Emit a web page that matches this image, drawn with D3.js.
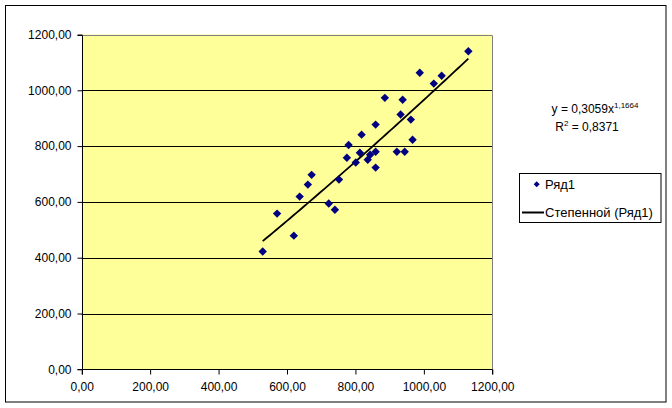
<!DOCTYPE html>
<html>
<head>
<meta charset="utf-8">
<script src="https://cdn.jsdelivr.net/npm/d3@7"></script>
<style>
  html, body { margin: 0; padding: 0; background: #fff; }
  svg text { font-family: Arial, "Liberation Sans", sans-serif; }
</style>
</head>
<body>
<svg id="chart" width="672" height="408"></svg>
<script>
// ---- data ----
const xValues = [1130, 988, 1052, 1029, 886, 938, 932, 962, 859, 818,
                 967, 780, 813, 859, 921, 944, 843, 775, 836, 801,
                 859, 672, 752, 661, 637, 722, 740, 571, 620, 529];
const yValues = [1140, 1063, 1052, 1024, 973, 966, 913, 895, 877, 841,
                 823, 804, 776, 780, 780, 780, 769, 758, 751, 741,
                 723, 697, 680, 662, 619, 594, 572, 558, 479, 422];
const xTicks = [0, 200, 400, 600, 800, 1000, 1200];
const yTicks = [0, 200, 400, 600, 800, 1000, 1200];
const trendCoef = [0.3059, 1.1664];   // y = a * x^b
const seriesName = "Ряд1";
const trendName = "Степенной (Ряд1)";
const eqMain = "y = 0,3059x";
const eqExp = "1,1664";
const r2Text = " = 0,8371";

(function () {
const fmt = v => d3.format(".2f")(v).replace(".", ",");

const svg = d3.select("#chart");
const pL = 81.7, pT = 34.5, pR = 492.3, pB = 369.3;

// outer chart border
svg.append("rect").attr("x", 5.5).attr("y", 5.5).attr("width", 660.5).attr("height", 396.5)
  .attr("fill", "#fff").attr("stroke", "#000").attr("stroke-width", 1);

const x = d3.scaleLinear().domain([0, 1200]).range([pL, pR]);
const y = d3.scaleLinear().domain([0, 1200]).range([pB, pT]);

// plot area
svg.append("rect").attr("x", pL).attr("y", pT).attr("width", pR - pL).attr("height", pB - pT)
  .attr("fill", "#FFFF99");

// gridlines
svg.append("g").selectAll("line").data(yTicks.filter(t => t > 0 && t < 1200)).join("line")
  .attr("x1", pL).attr("x2", pR)
  .attr("y1", d => Math.round(y(d)) + 0.5).attr("y2", d => Math.round(y(d)) + 0.5)
  .attr("stroke", "#000").attr("stroke-width", 1);

// plot border (top/right gray)
svg.append("path")
  .attr("d", `M${pL},${Math.round(pT)+0.5}H${Math.round(pR)+0.5}V${pB}`)
  .attr("fill", "none").attr("stroke", "#808080").attr("stroke-width", 1);

// axes
const yAxis = d3.axisLeft(y).tickValues(yTicks).tickFormat(fmt).tickSize(5).tickPadding(6);
const gy = svg.append("g").attr("transform", `translate(${Math.round(pL)+0.5},0)`).call(yAxis);
const xAxis = d3.axisBottom(x).tickValues(xTicks).tickFormat(fmt).tickSize(5).tickPadding(8);
const gx = svg.append("g").attr("transform", `translate(0,${Math.round(pB)+0.5})`).call(xAxis);
[gy, gx].forEach(g => {
  g.select(".domain").attr("stroke", "#000").attr("stroke-width", 1);
  g.selectAll(".tick line").attr("stroke", "#000");
  g.selectAll("text").attr("fill", "#000").attr("font-size", 12)
    .attr("font-family", "Arial, 'Liberation Sans', sans-serif");
});
gy.select(".domain").attr("d", `M-5,${Math.round(pB)+0.5}H0V${Math.round(pT)+0.5}H-5`);
gx.select(".domain").attr("d", `M${Math.round(pL)+0.5},5V0H${Math.round(pR)+0.5}V5`);

// trendline
const pts = xValues.map((d, i) => ({ x: d, y: yValues[i] }));
const xmin = d3.min(xValues), xmax = d3.max(xValues);
const trend = d3.range(0, 61).map(i => {
  const xv = xmin + (xmax - xmin) * i / 60;
  return { x: xv, y: trendCoef[0] * Math.pow(xv, trendCoef[1]) };
});
svg.append("path").datum(trend)
  .attr("d", d3.line().x(d => x(d.x)).y(d => y(d.y)))
  .attr("fill", "none").attr("stroke", "#000").attr("stroke-width", 1.8);

// markers (diamonds)
const diamond = (cx, cy, r) => `M${cx},${cy - r}L${cx + r},${cy}L${cx},${cy + r}L${cx - r},${cy}Z`;
svg.append("g").selectAll("path").data(pts).join("path")
  .attr("d", d => diamond(x(d.x), y(d.y), 4.2))
  .attr("fill", "#000080");

// equation
const eq = svg.append("text").attr("x", 595).attr("y", 113).attr("text-anchor", "middle")
  .attr("font-size", 12).attr("fill", "#000");
eq.append("tspan").text(eqMain);
eq.append("tspan").attr("font-size", 8).attr("dy", -5).text(eqExp);
const r2 = svg.append("text").attr("x", 587).attr("y", 131).attr("text-anchor", "middle")
  .attr("font-size", 12).attr("fill", "#000");
r2.append("tspan").text("R");
r2.append("tspan").attr("font-size", 8).attr("dy", -5).text("2");
r2.append("tspan").attr("dy", 5).text(r2Text);

// legend
svg.append("rect").attr("x", 519.5).attr("y", 173.5).attr("width", 141.5).attr("height", 49)
  .attr("fill", "#fff").attr("stroke", "#000").attr("stroke-width", 1);
svg.append("path").attr("d", diamond(536.7, 184.3, 3)).attr("fill", "#000080");
svg.append("text").attr("x", 545).attr("y", 189).attr("font-size", 13).attr("fill", "#000").text(seriesName);
svg.append("line").attr("x1", 522).attr("x2", 544).attr("y1", 212.5).attr("y2", 212.5)
  .attr("stroke", "#000").attr("stroke-width", 2);
svg.append("text").attr("x", 545).attr("y", 217).attr("font-size", 13).attr("fill", "#000").text(trendName);
})();
</script>
</body>
</html>
